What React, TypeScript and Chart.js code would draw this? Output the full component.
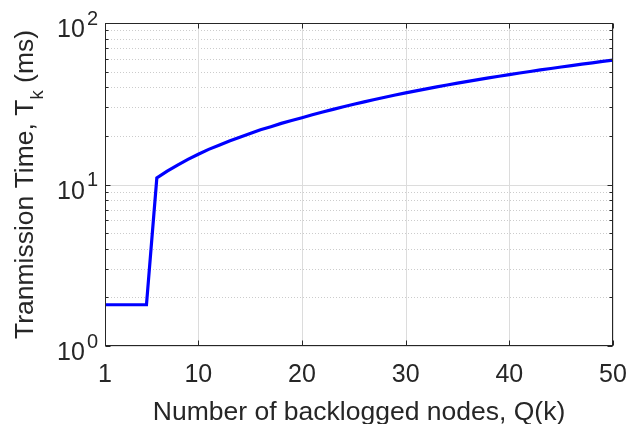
import { useEffect, useRef } from "react";
import { Chart, registerables } from "chart.js";

Chart.register(...registerables);

// Number of backlogged nodes Q(k)
const backloggedNodes = [
  1, 2, 3, 4, 5, 6, 7, 8, 9, 10,
  11, 12, 13, 14, 15, 16, 17, 18, 19, 20,
  21, 22, 23, 24, 25, 26, 27, 28, 29, 30,
  31, 32, 33, 34, 35, 36, 37, 38, 39, 40,
  41, 42, 43, 44, 45, 46, 47, 48, 49, 50,
];

// Transmission time T_k in milliseconds
const transmissionTimeMs = [
  1.8, 1.8, 1.8, 1.8, 1.8, 11.0, 12.1, 13.2, 14.3, 15.4,
  16.5, 17.5, 18.6, 19.6, 20.7, 21.8, 22.8, 23.9, 24.9, 25.9,
  27.0, 28.1, 29.2, 30.3, 31.4, 32.5, 33.6, 34.7, 35.8, 36.9,
  38.0, 39.1, 40.2, 41.3, 42.4, 43.5, 44.6, 45.7, 46.8, 47.9,
  49.0, 50.1, 51.2, 52.3, 53.4, 54.5, 55.6, 56.7, 57.8, 58.9,
];

const xTickValues = [1, 10, 20, 30, 40, 50];
const xTickLabels = ["1", "10", "20", "30", "40", "50"];
const yDecadeValues = [1, 10, 100];
const yDecadeExponents = ["0", "1", "2"];
const yMinorValues = [2, 3, 4, 5, 6, 7, 8, 9, 20, 30, 40, 50, 60, 70, 80, 90];

const xTitle = "Number of backlogged nodes, Q(k)";
const yTitleLead = "Tranmission Time, T";
const yTitleSub = "k";
const yTitleTail = " (ms)";

const FONT = '"Liberation Sans", Arial, Helvetica, sans-serif';
const INK = "#262626";

const axesPlugin = {
  id: "boxedAxes",
  beforeDatasetsDraw(chart: any) {
    const { ctx, chartArea: a, scales } = chart;
    const x = scales.x;
    const y = scales.y;
    ctx.save();
    ctx.lineWidth = 1;
    // dotted minor grid on the log axis
    ctx.strokeStyle = "#cccccc";
    ctx.setLineDash([1, 2]);
    for (const v of yMinorValues) {
      const py = Math.round(y.getPixelForValue(v)) + 0.5;
      ctx.beginPath();
      ctx.moveTo(a.left, py);
      ctx.lineTo(a.right, py);
      ctx.stroke();
    }
    // solid major grid
    ctx.setLineDash([]);
    ctx.strokeStyle = "#dcdcdc";
    for (const v of xTickValues) {
      const px = Math.round(x.getPixelForValue(v)) + 0.5;
      ctx.beginPath();
      ctx.moveTo(px, a.top);
      ctx.lineTo(px, a.bottom);
      ctx.stroke();
    }
    for (const v of yDecadeValues) {
      const py = Math.round(y.getPixelForValue(v)) + 0.5;
      ctx.beginPath();
      ctx.moveTo(a.left, py);
      ctx.lineTo(a.right, py);
      ctx.stroke();
    }
    ctx.restore();
  },
  afterDatasetsDraw(chart: any) {
    const { ctx, chartArea: a, scales } = chart;
    const x = scales.x;
    const y = scales.y;
    const L = Math.round(a.left) + 0.5;
    const R = Math.round(a.right) - 0.5;
    const T = Math.round(a.top) + 0.5;
    const B = Math.round(a.bottom) - 0.5;
    ctx.save();
    ctx.strokeStyle = INK;
    ctx.lineWidth = 1;
    ctx.strokeRect(L, T, R - L, B - T);

    // inward tick marks
    ctx.beginPath();
    for (const v of xTickValues) {
      const px = Math.round(x.getPixelForValue(v)) + 0.5;
      ctx.moveTo(px, B);
      ctx.lineTo(px, B - 5);
      ctx.moveTo(px, T);
      ctx.lineTo(px, T + 5);
    }
    for (const v of yDecadeValues) {
      const py = Math.round(y.getPixelForValue(v)) + 0.5;
      ctx.moveTo(L, py);
      ctx.lineTo(L + 5, py);
      ctx.moveTo(R, py);
      ctx.lineTo(R - 5, py);
    }
    for (const v of yMinorValues) {
      const py = Math.round(y.getPixelForValue(v)) + 0.5;
      ctx.moveTo(L, py);
      ctx.lineTo(L + 3, py);
      ctx.moveTo(R, py);
      ctx.lineTo(R - 3, py);
    }
    ctx.stroke();

    ctx.fillStyle = INK;
    ctx.textBaseline = "alphabetic";

    // x tick labels
    ctx.font = `25px ${FONT}`;
    ctx.textAlign = "center";
    xTickValues.forEach((v, i) => {
      ctx.fillText(xTickLabels[i], x.getPixelForValue(v), a.bottom + 35.5);
    });

    // y tick labels: 10 with a raised exponent
    yDecadeValues.forEach((v, i) => {
      const py = y.getPixelForValue(v);
      ctx.font = `20px ${FONT}`;
      const supW = ctx.measureText(yDecadeExponents[i]).width;
      ctx.font = `25px ${FONT}`;
      const baseW = ctx.measureText("10").width;
      const right = a.left - 7;
      const start = right - supW - 2 - baseW;
      ctx.textAlign = "left";
      ctx.fillText("10", start, py + 14);
      ctx.font = `20px ${FONT}`;
      ctx.fillText(yDecadeExponents[i], start + baseW + 2, py + 1.5);
    });

    // x axis title
    ctx.font = `26.5px ${FONT}`;
    ctx.textAlign = "center";
    ctx.fillText(xTitle, (a.left + a.right) / 2, 420);

    // y axis title, rotated, with subscript k
    ctx.translate(33, (a.top + a.bottom) / 2);
    ctx.rotate(-Math.PI / 2);
    ctx.textAlign = "left";
    ctx.font = `26.5px ${FONT}`;
    const w1 = ctx.measureText(yTitleLead).width;
    const w3 = ctx.measureText(yTitleTail).width;
    ctx.font = `18.5px ${FONT}`;
    const w2 = ctx.measureText(yTitleSub).width;
    let cx = -(w1 + w2 + w3) / 2;
    ctx.font = `26.5px ${FONT}`;
    ctx.fillText(yTitleLead, cx, 0);
    cx += w1;
    ctx.font = `18.5px ${FONT}`;
    ctx.fillText(yTitleSub, cx, 10);
    cx += w2;
    ctx.font = `26.5px ${FONT}`;
    ctx.fillText(yTitleTail, cx, 0);
    ctx.restore();
  },
};

const whiteBackground = {
  id: "whiteBackground",
  beforeDraw(chart: any) {
    const { ctx, width, height } = chart;
    ctx.save();
    ctx.fillStyle = "#ffffff";
    ctx.fillRect(0, 0, width, height);
    ctx.restore();
  },
};

export default function App() {
  const canvasRef = useRef<HTMLCanvasElement | null>(null);

  useEffect(() => {
    if (!canvasRef.current) return;
    const chart = new Chart(canvasRef.current, {
      type: "line",
      data: {
        datasets: [
          {
            data: backloggedNodes.map((q, i) => ({ x: q, y: transmissionTimeMs[i] })),
            borderColor: "#0000ff",
            borderWidth: 3.2,
            borderJoinStyle: "miter",
            pointRadius: 0,
            tension: 0,
            fill: false,
          },
        ],
      },
      options: {
        animation: false,
        responsive: true,
        maintainAspectRatio: false,
        layout: { padding: { left: 105, right: 16, top: 23, bottom: 78 } },
        plugins: { legend: { display: false }, tooltip: { enabled: false } },
        scales: {
          x: { type: "linear", min: 1, max: 50, display: false },
          y: { type: "logarithmic", min: 1, max: 100, display: false },
        },
      },
      plugins: [whiteBackground, axesPlugin],
    });
    return () => chart.destroy();
  }, []);

  return (
    <div style={{ position: "fixed", left: 0, top: 0, width: 629, height: 424, background: "#fff" }}>
      <canvas ref={canvasRef} />
    </div>
  );
}
